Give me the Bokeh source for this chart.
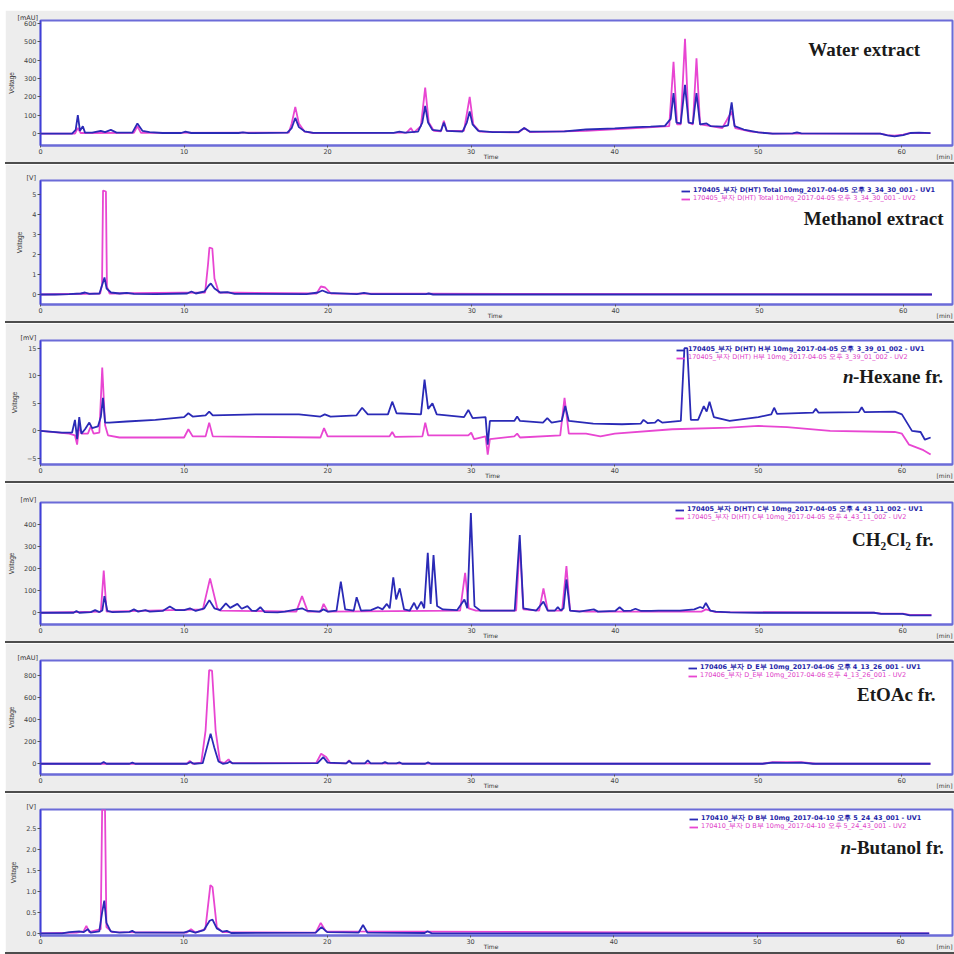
from bokeh.plotting import figure
from bokeh.models import (Range1d, FixedTicker, Label, Legend, LegendItem, Div, NumeralTickFormatter, LinearAxis)
from bokeh.layouts import column, row
from bokeh.embed import file_html
from bokeh.resources import INLINE

# ---------------- data (time [min], signal) ----------------
time_ticks = [0, 10, 20, 30, 40, 50, 60]

water_blue = [(0.0,0),(2.2,0),(2.45,20),(2.6,100),(2.75,15),(2.95,40),(3.1,5),(3.6,5),(4.2,15),(4.5,8),(4.9,20),(5.3,5),
              (6.4,5),(6.75,55),(7.1,15),(7.6,8),(8.5,3),(9.8,3),(10.1,10),(10.5,3),(13.8,3),(14.1,6),(14.5,2),(17.2,5),
              (17.5,30),(17.75,85),(18.0,35),(18.4,12),(19.0,4),(24.6,4),(25.0,10),(25.4,5),(26.3,10),(26.6,60),(26.8,150),
              (27.0,60),(27.3,20),(27.9,15),(28.1,60),(28.3,15),(29.4,10),(29.7,60),(29.9,120),(30.1,50),(30.5,15),(31.5,8),
              (33.3,8),(33.7,30),(34.1,10),(36.5,12),(38.0,22),(40.0,28),(41.5,35),(42.5,38),(43.5,42),(43.9,80),(44.1,220),
              (44.3,60),(44.6,55),(44.9,265),(45.15,60),(45.45,55),(45.7,220),(45.95,50),(46.4,55),(46.7,40),(47.5,38),
              (47.9,45),(48.15,170),(48.35,40),(49.0,22),(50.0,6),(51.0,0),(52.4,1),(52.7,6),(53.0,1),(58.5,0),(59.0,-10),
              (59.5,-15),(60.1,-8),(60.6,3),(61.2,5),(62.0,2)]
water_pink = [(0.0,0),(2.4,0),(2.6,30),(2.8,3),(6.5,4),(6.75,40),(7.0,4),(17.3,5),(17.5,55),(17.75,145),(18.0,55),(18.4,10),
              (19.0,3),(25.5,5),(25.8,30),(26.0,5),(26.5,40),(26.8,250),(27.05,60),(27.4,15),(27.9,12),(28.1,70),(28.3,15),
              (29.5,15),(29.9,200),(30.15,50),(30.6,10),(33.3,6),(33.7,30),(34.1,8),(38.0,15),(41.5,30),(43.8,40),(44.1,390),
              (44.35,50),(44.6,50),(44.9,515),(45.15,60),(45.45,50),(45.7,410),(45.95,50),(46.4,45),(47.5,30),(48.15,120),
              (48.4,30),(49.5,10),(51.0,0),(58.5,0),(59.0,-8),(59.5,-12),(60.1,-6),(60.6,3),(61.2,4),(62.0,2)]

methanol_blue = [(0.0,0),(1.0,0),(2.0,0.02),(2.8,0.05),(3.1,0.1),(3.4,0.03),(4.1,0.05),(4.3,0.5),(4.45,0.85),(4.6,0.3),
                 (4.9,0.1),(5.5,0.05),(6.0,0.08),(6.5,0.03),(8.0,0.02),(10.2,0.05),(10.5,0.15),(10.8,0.05),(11.4,0.15),
                 (11.7,0.45),(11.85,0.55),(12.1,0.3),(12.5,0.1),(13.0,0.12),(13.5,0.03),(18.5,0.02),(19.3,0.1),(19.6,0.2),
                 (20.0,0.08),(22.0,0.02),(22.5,0.08),(23.0,0.02),(26.8,0.02),(27.0,0.05),(27.3,0.0),(62.0,0.0)]
methanol_pink = [(0.0,0),(4.15,0.05),(4.28,0.5),(4.35,5.2),(4.55,5.15),(4.62,0.4),(4.8,0.05),(11.45,0.1),(11.65,1.5),
                 (11.75,2.35),(11.95,2.3),(12.1,0.8),(12.4,0.1),(19.2,0.05),(19.5,0.4),(19.8,0.35),(20.2,0.05),(62.0,0)]

hexane_blue = [(0.0,0),(1.5,-0.3),(2.2,-0.3),(2.4,2.0),(2.55,-1.5),(2.7,2.5),(2.85,-0.5),(3.1,0.3),(3.4,1.5),(3.6,0.5),
               (4.0,0.8),(4.2,2.5),(4.35,6.0),(4.5,1.5),(4.8,1.5),(6.0,1.7),(8.0,2.0),(10.0,2.5),(10.3,3.2),(10.6,2.6),
               (11.5,2.8),(11.75,3.5),(12.0,2.8),(15.0,3.0),(18.0,3.0),(19.5,2.6),(19.8,3.0),(20.2,2.6),(22.0,2.8),
               (22.4,4.2),(22.8,3.0),(24.2,3.0),(24.5,5.3),(24.8,3.2),(26.5,3.0),(26.75,9.3),(27.0,4.0),(27.3,5.0),
               (27.6,3.0),(29.5,2.5),(29.8,3.8),(30.1,2.3),(31.0,2.5),(31.15,-2.5),(31.3,1.8),(33.0,1.8),(33.2,2.6),
               (33.4,1.8),(35.0,1.5),(35.3,2.3),(35.6,1.5),(36.3,1.8),(36.55,4.5),(36.8,1.8),(38.5,1.3),(40.5,1.2),
               (41.8,1.3),(42.0,2.0),(42.3,1.4),(42.8,1.5),(43.0,2.0),(43.3,1.5),(44.6,1.8),(44.85,15.0),(45.05,15.0),
               (45.3,2.0),(45.8,2.0),(46.2,4.5),(46.4,3.5),(46.6,5.3),(46.9,2.5),(48.0,1.8),(50.0,2.5),(50.9,3.0),
               (51.1,4.2),(51.3,3.1),(53.8,3.3),(54.0,4.0),(54.2,3.3),(57.0,3.4),(57.2,4.3),(57.4,3.4),(59.5,3.5),
               (60.0,3.0),(60.7,0.0),(61.3,-0.2),(61.6,-1.6),(62.0,-1.2)]
hexane_pink = [(0.0,0),(2.0,-0.5),(2.4,-0.8),(2.55,-2.5),(2.7,1.0),(2.85,-0.5),(3.3,-0.5),(3.5,0.8),(3.7,-0.5),(4.1,-0.3),
               (4.3,11.5),(4.5,1.0),(4.7,-0.8),(5.5,-1.2),(10.0,-1.2),(10.3,0.3),(10.6,-1.0),(11.5,-1.0),(11.75,1.5),
               (12.0,-1.0),(19.5,-1.2),(19.75,0.5),(20.0,-1.0),(24.3,-1.0),(24.5,-0.2),(24.7,-1.1),(26.6,-1.0),(26.8,1.5),
               (27.0,-0.8),(29.8,-0.8),(30.0,-0.3),(30.2,-1.5),(31.0,-1.0),(31.15,-4.3),(31.3,-1.5),(33.0,-1.0),(33.2,-0.5),
               (33.4,-1.2),(36.2,-0.8),(36.5,6.0),(36.8,-0.5),(38.0,-0.5),(39.0,-1.0),(40.0,-0.5),(44.0,0.3),(48.0,0.6),
               (50.0,0.9),(52.0,0.7),(55.0,0.0),(59.5,-0.2),(60.0,-0.5),(60.5,-2.5),(61.0,-3.0),(61.5,-3.5),(62.0,-4.3)]

dcm_blue = [(0.0,0),(2.3,0),(2.5,8),(2.7,0),(3.5,3),(3.8,12),(4.1,3),(4.3,10),(4.45,75),(4.65,8),(5.0,3),(6.2,5),(6.5,15),
            (6.8,5),(7.3,12),(7.6,5),(8.5,8),(9.0,28),(9.4,12),(10.0,12),(10.4,20),(10.8,8),(11.4,20),(11.75,57),(12.1,20),
            (12.5,12),(12.9,42),(13.2,22),(13.7,40),(14.0,18),(14.4,30),(14.7,10),(15.0,8),(15.3,25),(15.6,3),(16.5,2),
            (17.0,5),(18.2,20),(18.5,10),(19.4,5),(19.7,15),(20.0,5),(20.6,10),(20.9,140),(21.2,15),(21.8,10),(22.0,70),
            (22.3,10),(23.0,12),(23.5,25),(23.8,15),(24.1,40),(24.3,20),(24.55,160),(24.75,60),(25.0,110),(25.3,15),
            (25.7,10),(26.0,45),(26.2,15),(26.5,50),(26.7,20),(26.95,270),(27.15,40),(27.35,260),(27.6,30),(28.0,15),
            (29.0,12),(29.5,60),(29.7,20),(29.95,450),(30.2,30),(30.6,10),(33.0,10),(33.35,350),(33.6,20),(34.5,10),
            (35.0,50),(35.3,10),(35.8,10),(36.0,25),(36.2,10),(36.4,20),(36.6,150),(36.85,10),(37.5,5),(38.5,15),(38.8,5),
            (40.0,8),(40.3,25),(40.6,8),(41.1,10),(41.4,18),(41.8,8),(42.5,8),(43.0,10),(44.5,10),(45.5,15),(45.9,26),
            (46.1,20),(46.3,44),(46.6,10),(47.0,5),(48.0,2),(50.0,0),(58.0,0),(58.5,-5),(60.0,-5),(60.5,-12),(62.0,-12)]
dcm_pink = [(0.0,0),(4.2,5),(4.4,190),(4.6,5),(11.3,15),(11.8,155),(12.3,20),(12.5,10),(17.8,5),(18.2,75),(18.6,5),(19.5,5),
            (19.7,40),(20.0,5),(29.2,10),(29.55,180),(29.8,20),(30.3,10),(33.1,10),(33.35,320),(33.6,15),(34.7,10),
            (35.0,110),(35.3,10),(36.3,10),(36.6,210),(36.85,10),(38.0,5),(46.0,5),(46.3,15),(47.0,3),(58.0,0),(58.5,-4),
            (60.0,-4),(60.5,-10),(62.0,-10)]

etoac_blue = [(0.0,0),(4.2,0),(4.4,15),(4.6,0),(6.2,0),(6.4,10),(6.6,0),(10.2,0),(10.45,15),(10.7,0),(11.3,5),(11.6,150),
              (11.85,272),(12.1,150),(12.4,20),(12.7,0),(13.0,5),(13.2,20),(13.4,3),(19.3,5),(19.7,60),(20.0,10),(21.3,3),
              (21.5,25),(21.7,3),(22.6,3),(22.8,30),(23.0,3),(23.8,3),(24.0,15),(24.2,3),(24.8,3),(25.0,12),(25.2,0),
              (26.8,0),(27.0,12),(27.2,0),(50.3,0),(51.0,10),(52.0,8),(53.0,10),(53.8,0),(62.0,0)]
etoac_pink = [(0.0,0),(10.2,0),(10.4,25),(10.6,0),(11.2,10),(11.5,300),(11.75,845),(11.95,840),(12.2,300),(12.5,20),
              (12.8,5),(13.1,40),(13.3,5),(19.2,5),(19.55,90),(19.9,60),(20.2,5),(21.3,3),(21.5,30),(21.7,3),(50.3,0),
              (51.0,15),(53.0,15),(54.0,0),(62.0,0)]

butanol_blue = [(0.0,0),(1.5,0),(2.0,0.03),(2.7,0.05),(3.0,0.03),(3.3,0.1),(3.5,0.02),(4.1,0.05),(4.3,0.5),(4.45,0.78),
                (4.6,0.25),(4.9,0.05),(5.5,0.02),(6.2,0.03),(6.4,0.06),(6.6,0.02),(10.0,0.02),(10.4,0.06),(10.8,0.02),
                (11.4,0.08),(11.8,0.3),(12.0,0.33),(12.3,0.12),(12.7,0.04),(13.0,0.06),(13.3,0.01),(19.2,0.02),
                (19.6,0.15),(20.0,0.03),(22.2,0.02),(22.5,0.2),(22.8,0.02),(26.8,0.01),(27.0,0.05),(27.3,0.0),(62.0,0)]
butanol_pink = [(0.0,0),(2.5,0.02),(3.0,0.05),(3.2,0.18),(3.4,0.03),(4.2,0.1),(4.3,2.95),(4.5,2.95),(4.6,0.15),(5.0,0.03),
                (10.2,0.02),(10.5,0.1),(10.8,0.02),(11.5,0.1),(11.85,1.15),(12.0,1.1),(12.3,0.15),(12.7,0.03),(19.2,0.02),
                (19.55,0.25),(19.9,0.05),(62.0,0)]

y_ranges = [(-65, 615), (-0.5, 5.7), (-6.1, 16.4), (-53, 497), (-97, 932), (-0.05, 2.95)]
y_ticks = [[0, 100, 200, 300, 400, 500, 600], [0, 1, 2, 3, 4, 5], [-5, 0, 5, 10, 15],
           [0, 100, 200, 300, 400], [0, 200, 400, 600, 800], [0.0, 0.5, 1.0, 1.5, 2.0, 2.5]]
y_units = ["[mAU]", "[V]", "[mV]", "[mV]", "[mAU]", "[V]"]
sample_names = ["Water extract", "Methanol extract", "n-Hexane fr.", "CH\u2082Cl\u2082 fr.", "EtOAc fr.", "n-Butanol fr."]
legend_texts = [
    None,
    ("170405_부자 D(HT) Total 10mg_2017-04-05 오후 3_34_30_001 - UV1",
     "170405_부자 D(HT) Total 10mg_2017-04-05 오후 3_34_30_001 - UV2"),
    ("170405_부자 D(HT) H부 10mg_2017-04-05 오후 3_39_01_002 - UV1",
     "170405_부자 D(HT) H부 10mg_2017-04-05 오후 3_39_01_002 - UV2"),
    ("170405_부자 D(HT) C부 10mg_2017-04-05 오후 4_43_11_002 - UV1",
     "170405_부자 D(HT) C부 10mg_2017-04-05 오후 4_43_11_002 - UV2"),
    ("170406_부자 D_E부 10mg_2017-04-06 오후 4_13_26_001 - UV1",
     "170406_부자 D_E부 10mg_2017-04-06 오후 4_13_26_001 - UV2"),
    ("170410_부자 D B부 10mg_2017-04-10 오후 5_24_43_001 - UV1",
     "170410_부자 D B부 10mg_2017-04-10 오후 5_24_43_001 - UV2"),
]
series = [(water_blue, water_pink), (methanol_blue, methanol_pink), (hexane_blue, hexane_pink),
          (dcm_blue, dcm_pink), (etoac_blue, etoac_pink), (butanol_blue, butanol_pink)]

# ---------------- layout / style ----------------
BLUE = "#2a2ab6"
PINK = "#e846d2"
FRAME = "#6b6bd8"
BG = "#ededed"
SEP = "#4d4d4d"
PAGE_W = 954
MARGIN_L = 5            # white strip on the left of the page
W = PAGE_W - MARGIN_L   # figure width
RIGHT = 952             # page x of the frame's right edge

# page-pixel geometry of each panel (top/h: figure box; left: y-axis x; ftop/fbot: frame lines)
LAYOUT = [
    dict(top=10, h=152, left=39, ftop=20, fbot=146, ppm=14.37, unit_off=-23),
    dict(top=164, h=157, left=31, ftop=180, fbot=305, ppm=14.52, unit_off=-14),
    dict(top=323, h=158, left=36, ftop=340, fbot=466, ppm=14.42, unit_off=-20),
    dict(top=483, h=158, left=40, ftop=502, fbot=627, ppm=14.37, unit_off=-20),
    dict(top=643, h=148, left=39, ftop=660, fbot=777, ppm=14.37, unit_off=-23),
    dict(top=793, h=159, left=39, ftop=809, fbot=936, ppm=14.35, unit_off=-14),
]
NAME_POS = [
    [(0, 920, 49, "bold", "right")],
    [(0, 943, 218, "bold", "right")],
    [("n", 842, 377, "bold italic", "left"), ("-Hexane fr.", 852, 377, "bold", "left")],
    [(0, 933, 540, "bold", "right")],
    [(0, 935, 695, "bold", "right")],
    [("n", 840, 847, "bold italic", "left"), ("-Butanol fr.", 850, 847, "bold", "left")],
]
LEGEND_POS = [None, (672, 188, 196), (672, 348, 356), (675, 509, 517), (687, 667, 675), (688, 816, 824)]
LEGEND_SHIFT = 8        # empirical offset between a row's centre and Legend.location y
TIME_PX = 490
MIN_PX = 944


def to_data(cfg, y0, y1, px, py):
    x = (px - cfg["left"]) / cfg["ppm"]
    frac = (py - cfg["ftop"]) / (cfg["fbot"] - cfg["ftop"])
    return x, y1 - frac * (y1 - y0)


children = [Div(text="", width=W, height=10, margin=(0, 0, 0, 0), styles={"background-color": "white"})]
for i, cfg in enumerate(LAYOUT):
    y0, y1 = y_ranges[i]
    x_end = (RIGHT - cfg["left"]) / cfg["ppm"]
    p = figure(width=W, height=cfg["h"], x_range=Range1d(0, x_end), y_range=Range1d(y0, y1),
               output_backend="svg", toolbar_location=None, title=y_units[i],
               min_border_left=cfg["left"] - MARGIN_L, min_border_right=PAGE_W - RIGHT,
               min_border_top=cfg["ftop"] - cfg["top"], min_border_bottom=cfg["top"] + cfg["h"] - cfg["fbot"],
               background_fill_color="white", border_fill_color=BG,
               outline_line_color=FRAME, outline_line_width=2)
    p.grid.visible = False
    p.title.align = "left"
    p.title.offset = cfg["unit_off"]
    p.title.standoff = -3
    p.title.text_font_size = "6.5px"
    p.title.text_font_style = "normal"
    p.title.text_font = "DejaVu Sans"
    p.title.text_color = "#333333"

    blue, pink = series[i]
    rp = p.line([a for a, b in pink], [b for a, b in pink], line_color=PINK, line_width=1.8)
    rb = p.line([a for a, b in blue], [b for a, b in blue], line_color=BLUE, line_width=1.8)

    # x axis
    xa = p.xaxis[0]
    xa.ticker = FixedTicker(ticks=time_ticks)
    xa.axis_line_color = FRAME
    xa.axis_line_width = 2
    xa.major_tick_out = 2
    xa.major_tick_in = 0
    xa.minor_tick_line_color = None
    xa.major_tick_line_color = "#555555"
    xa.major_label_standoff = 1
    xa.major_label_text_font_size = "6.5px"
    xa.major_label_text_color = "#444444"
    xa.major_label_text_font = "DejaVu Sans"

    # secondary bottom axis carrying "Time" and "[min]"
    t_time = (TIME_PX - cfg["left"]) / cfg["ppm"]
    t_min = (MIN_PX - cfg["left"]) / cfg["ppm"]
    ax2 = LinearAxis(ticker=FixedTicker(ticks=[t_time, t_min]),
                     major_label_overrides={t_time: "Time", t_min: "[min]"},
                     axis_line_color=None, major_tick_line_color=None, minor_tick_line_color=None,
                     major_tick_out=0, major_tick_in=0, major_label_standoff=-4,
                     major_label_text_font_size="6px", major_label_text_color="#333333",
                     major_label_text_font="DejaVu Sans")
    p.add_layout(ax2, "below")

    # y axis
    ya = p.yaxis[0]
    ya.ticker = FixedTicker(ticks=y_ticks[i])
    if i == 5:
        ya.formatter = NumeralTickFormatter(format="0.0")
    ya.axis_line_color = "#3f3fd8"
    ya.axis_line_width = 1.5
    ya.major_tick_out = 3
    ya.major_tick_in = 0
    ya.minor_tick_line_color = None
    ya.major_tick_line_color = "#555555"
    ya.major_label_standoff = 1
    ya.major_label_text_font_size = "6.5px"
    ya.major_label_text_color = "#444444"
    ya.major_label_text_font = "DejaVu Sans"
    ya.axis_label = "Voltage"
    ya.axis_label_text_font_size = "6.5px"
    ya.axis_label_text_font_style = "normal"
    ya.axis_label_text_color = "#333333"
    ya.axis_label_standoff = 6

    # sample name
    for part, px, py, style, align in NAME_POS[i]:
        txt = sample_names[i] if part == 0 else part
        lx, ly = to_data(cfg, y0, y1, px, py)
        p.add_layout(Label(x=lx, y=ly, text=txt, text_align=align, text_baseline="middle",
                           text_font="Liberation Serif", text_font_size="19px", text_font_style=style,
                           text_color="#1a1a1a"))

    # legends
    if legend_texts[i] is not None:
        lxp, by, py_ = LEGEND_POS[i]
        for txt, r, col, row_y, fs in ((legend_texts[i][0], rb, "#1f1fa8", by, "bold"),
                                       (legend_texts[i][1], rp, "#e040c8", py_, "normal")):
            leg = Legend(items=[LegendItem(label=txt, renderers=[r])],
                         location=(lxp - cfg["left"], cfg["fbot"] - row_y - LEGEND_SHIFT),
                         label_text_font="DejaVu Sans", label_text_font_size="6.5px",
                         label_text_font_style=fs, label_text_color=col,
                         glyph_width=9, glyph_height=6, label_height=6, label_standoff=3,
                         padding=0, margin=0, spacing=0,
                         background_fill_alpha=0, border_line_alpha=0)
            p.add_layout(leg)

    children.append(p)
    children.append(Div(text="", width=W, height=2, margin=(0, 0, 0, 0),
                        styles={"background-color": SEP}))

stack = column(children, spacing=0)
page = row([Div(text="", width=MARGIN_L, height=954, margin=(0, 0, 0, 0), styles={"background-color": "white"}),
            stack], spacing=0)
open("out.html", "w").write(file_html(page, INLINE))
